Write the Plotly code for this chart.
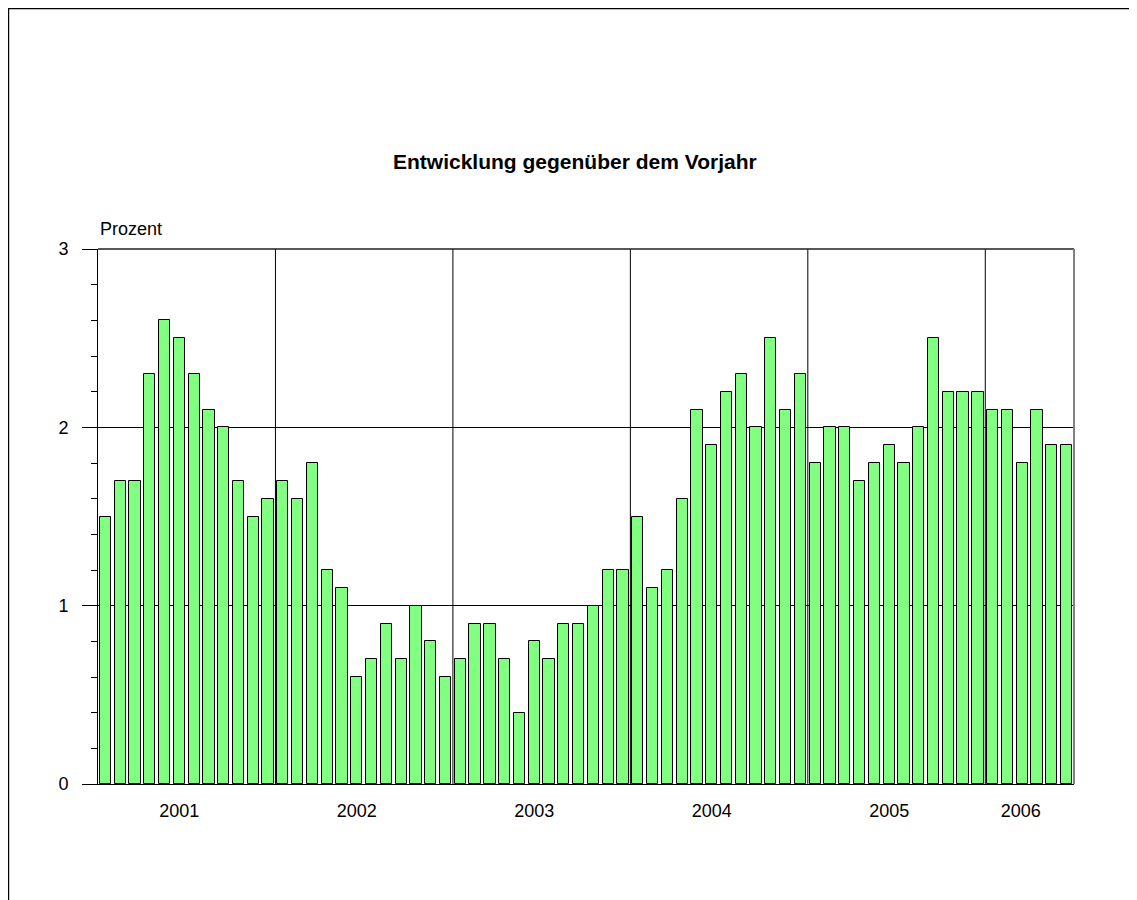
import plotly.graph_objects as go

years = ["2001", "2002", "2003", "2004", "2005", "2006"]
values_2001 = [1.5, 1.7, 1.7, 2.3, 2.6, 2.5, 2.3, 2.1, 2.0, 1.7, 1.5, 1.6]
values_2002 = [1.7, 1.6, 1.8, 1.2, 1.1, 0.6, 0.7, 0.9, 0.7, 1.0, 0.8, 0.6]
values_2003 = [0.7, 0.9, 0.9, 0.7, 0.4, 0.8, 0.7, 0.9, 0.9, 1.0, 1.2, 1.2]
values_2004 = [1.5, 1.1, 1.2, 1.6, 2.1, 1.9, 2.2, 2.3, 2.0, 2.5, 2.1, 2.3]
values_2005 = [1.8, 2.0, 2.0, 1.7, 1.8, 1.9, 1.8, 2.0, 2.5, 2.2, 2.2, 2.2]
values_2006 = [2.1, 2.1, 1.8, 2.1, 1.9, 1.9]

values = values_2001 + values_2002 + values_2003 + values_2004 + values_2005 + values_2006
months = list(range(len(values)))

# page has an 8px body margin; figure coordinates = page - 8
OFF = 8
W, H = 1137 - OFF, 900 - OFF
L = 98 - OFF
T = 249 - OFF
R = W - (1074 - OFF)
B = H - (784 - OFF)
pw, ph = W - L - R, H - T - B

FONT = "Liberation Sans, Arial, sans-serif"


def px_x(fx):
    return (fx - L) / pw


def px_y(fy):
    return (H - B - fy) / ph


fig = go.Figure()
fig.add_trace(go.Bar(
    x=months, y=values, width=0.76,
    marker=dict(color="#80FF80", line=dict(color="black", width=1)),
    hoverinfo="x+y",
))

# year label positions (visual)
label_pos = [5.0 + 12 * i for i in range(5)] + [61.9]

shapes = []
for i in range(1, len(years)):
    xb = 12 * i - 0.5
    shapes.append(dict(type="line", xref="x", yref="paper", x0=xb, x1=xb, y0=0, y1=1,
                       line=dict(color="black", width=1), layer="below"))
shapes.append(dict(type="line", xref="paper", yref="paper", x0=0, x1=1, y0=1, y1=1,
                   line=dict(color="#202020", width=1.5)))
shapes.append(dict(type="line", xref="paper", yref="paper", x0=1, x1=1, y0=0, y1=1,
                   line=dict(color="#808080", width=2)))
# outer frame lines at figure edge
shapes.append(dict(type="line", xref="paper", yref="paper",
                   x0=px_x(0), x1=px_x(W), y0=px_y(0.6), y1=px_y(0.6),
                   line=dict(color="black", width=1.2)))
shapes.append(dict(type="line", xref="paper", yref="paper",
                   x0=px_x(0.6), x1=px_x(0.6), y0=px_y(H), y1=px_y(0),
                   line=dict(color="black", width=1.2)))

fig.update_layout(
    width=W, height=H,
    margin=dict(l=L, r=R, t=T, b=B, pad=0),
    paper_bgcolor="white", plot_bgcolor="white",
    showlegend=False,
    bargap=0,
    font=dict(family=FONT, size=18, color="black"),
    shapes=shapes,
    annotations=[
        dict(text="<b>Entwicklung gegenüber dem Vorjahr</b>", xref="paper", yref="paper",
             x=px_x(567), y=px_y(153), showarrow=False,
             font=dict(size=21, family=FONT), xanchor="center", yanchor="middle"),
        dict(text="Prozent", xref="paper", yref="paper",
             x=px_x(90), y=px_y(221), showarrow=False,
             font=dict(size=18, family=FONT), xanchor="left", yanchor="middle"),
    ],
    xaxis=dict(
        range=[-0.5, len(values) - 0.5],
        tickmode="array", tickvals=label_pos, ticktext=years,
        ticks="", showgrid=False, zeroline=False,
        showline=True, linecolor="black", linewidth=1,
        ticklabelstandoff=10,
        tickfont=dict(size=18, family=FONT),
    ),
    yaxis=dict(
        range=[0, 3], tickmode="array", tickvals=[0, 1, 2, 3],
        ticks="outside", ticklen=15, tickcolor="black", tickwidth=1,
        showgrid=True, gridcolor="black", gridwidth=1,
        zeroline=False, showline=True, linecolor="black", linewidth=1,
        tickfont=dict(size=18, family=FONT),
        minor=dict(dtick=0.2, tick0=0, ticks="outside", ticklen=6, tickcolor="black", showgrid=False),
        ticklabelstandoff=10,
    ),
)

fig.write_html("out.html")
